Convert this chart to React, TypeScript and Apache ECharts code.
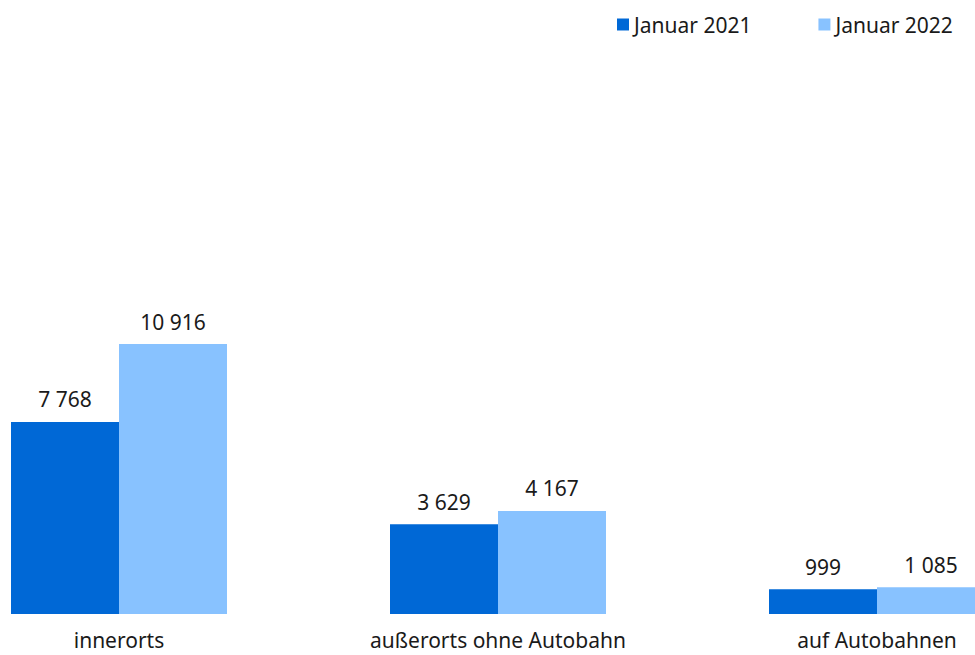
import React, { useEffect, useRef } from "react";
import * as echarts from "echarts";

const categories = ["innerorts", "außerorts ohne Autobahn", "auf Autobahnen"];
const seriesNames = ["Januar 2021", "Januar 2022"];
const values2021 = [7768, 3629, 999];
const values2022 = [10916, 4167, 1085];

const FONT = "'Noto Sans', sans-serif";
const fmt = (v: number) => String(v).replace(/\B(?=(\d{3})+(?!\d))/g, " ");

export default function App() {
  const ref = useRef<HTMLDivElement>(null);
  useEffect(() => {
    if (!ref.current) return;
    const chart = echarts.init(ref.current, undefined, { renderer: "svg" });
    const label = {
      show: true,
      position: "top" as const,
      distance: 12,
      fontSize: 21,
      fontFamily: FONT,
      color: "#1a1a1a",
      formatter: (p: any) => fmt(p.value),
    };
    chart.setOption({
      animation: false,
      textStyle: { fontFamily: FONT },
      legend: {
        left: 612,
        top: 9,
        icon: "rect",
        itemWidth: 12,
        itemHeight: 12,
        itemGap: 67,
        textStyle: { fontSize: 21, color: "#1a1a1a", fontFamily: FONT },
        data: seriesNames,
      },
      grid: {
        left: -70.5,
        right: -91.5,
        top: 119.4,
        bottom: 41,
        containLabel: false,
        outerBoundsMode: "none",
      },
      xAxis: {
        type: "category",
        data: categories,
        axisLine: { show: false },
        axisTick: { show: false },
        axisLabel: { fontSize: 21, color: "#1a1a1a", margin: 15, fontFamily: FONT },
      },
      yAxis: {
        type: "value",
        min: 0,
        max: 20000,
        show: false,
        splitLine: { show: false },
      },
      series: [
        {
          name: seriesNames[0],
          type: "bar",
          data: values2021,
          barWidth: 108,
          barGap: "0%",
          itemStyle: { color: "#0068D6" },
          label,
        },
        {
          name: seriesNames[1],
          type: "bar",
          data: values2022,
          barWidth: 108,
          barGap: "0%",
          itemStyle: { color: "#88C2FF" },
          label,
        },
      ],
    });
    return () => chart.dispose();
  }, []);
  return (
    <div
      ref={ref}
      style={{ position: "fixed", left: 0, top: 0, width: 975, height: 655, background: "#fff" }}
    />
  );
}
